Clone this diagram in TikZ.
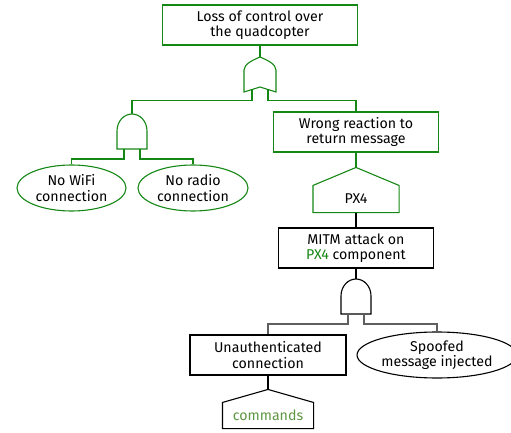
\documentclass[tikz,border=0pt]{standalone}
\usepackage{fontspec}
\setmainfont{Fira Sans}
\usepackage{xcolor}
\usepackage{tikz}
\usetikzlibrary{shapes,calc,positioning}

\definecolor{treegreen}{RGB}{20,135,20}
\definecolor{wiregray}{RGB}{95,95,95}
\definecolor{cmdgreen}{RGB}{95,150,65}

% logic gates, drawn upwards from the inputs
\tikzset{
    andgate/.pic={
        \draw (-15,0) -- (-15,-18) arc[start angle=180, end angle=360, x radius=15, y radius=17] -- (15,0) -- cycle;
        \coordinate (-out) at (0,-35);
        \coordinate (-inL) at (-8,0);
        \coordinate (-inR) at (8,0);
    },
    orgate/.pic={
        \draw (-16,0) -- (-16,-22) .. controls (-16,-28) and (-7,-32) .. (0,-35)
            .. controls (7,-32) and (16,-28) .. (16,-22) -- (16,0) -- (0,-5) -- cycle;
        \coordinate (-out) at (0,-35);
        \coordinate (-inL) at (-8,-2.5);
        \coordinate (-inR) at (8,-2.5);
    }
}

% house outline over a node, with the peak as (<node>-peak)
\newcommand{\houseroof}[3]{%
    \draw[#3] (#1.south west) -- (#1.north west) -- ($(#1.north)+(0,-#2)$) coordinate (#1-peak)
        -- (#1.north east) -- (#1.south east) -- cycle;
}

\begin{document}
\begin{tikzpicture}[
    x=1pt, y=-1pt, line width=1.1pt,
    font=\fontsize{14.2}{15.5}\selectfont,
    box/.style={draw, rectangle, minimum height=40pt, align=center, inner sep=2pt},
    event/.style={draw, ellipse, minimum height=46pt, align=center, inner sep=1pt},
    house/.style={rectangle, minimum height=26pt, align=center, inner sep=1pt}
]
    \useasboundingbox (0,0) rectangle (511,433);

    % Top event
    \node[box, draw=treegreen, minimum width=195pt] (loss) at (260,25) {Loss of control over\\the quadcopter};
    \pic[treegreen] (orA) at (260,92) {orgate};
    \draw[treegreen] (orA-out) -- (loss.south);

    % Left branch
    \pic[treegreen] (andA) at (132,149) {andgate};
    \draw[treegreen] (orA-inL) -- ++(0,11) -| (andA-out);
    \node[event, draw=treegreen, minimum width=109pt] (nowifi) at (71.5,188) {No WiFi\\connection};
    \node[event, draw=treegreen, minimum width=110pt] (noradio) at (193,188) {No radio\\connection};
    \draw[treegreen] (andA-inL) -- ++(0,10) -| (nowifi.north);
    \draw[treegreen] (andA-inR) -- ++(0,10) -| (noradio.north);

    % Right branch
    \node[box, draw=treegreen, minimum width=165pt] (wrong) at (356,132) {Wrong reaction to\\return message};
    \draw[treegreen] (orA-inR) -- ++(0,11) -| (wrong.north);
    \node[house, minimum width=85pt] (px4) at (356,199) {PX4};
    \houseroof{px4}{18}{treegreen}
    \draw[treegreen] (wrong.south) -- (px4-peak);

    % PX4 subtree
    \node[box, minimum width=155pt] (mitm) at (356,248) {MITM attack on\\\textcolor{treegreen}{PX4} component};
    \draw (px4.south) -- (mitm.north);
    \pic (andB) at (356,314) {andgate};
    \draw (mitm.south) -- (andB-out);
    \node[box, minimum width=156pt] (unauth) at (268,355) {Unauthenticated\\connection};
    \node[event, minimum width=150pt] (spoofed) at (437,355) {Spoofed\\message injected};
    \draw[wiregray] (andB-inL) -- ++(0,10) -| (unauth.north);
    \draw[wiregray] (andB-inR) -- ++(0,10) -| (spoofed.north);
    \node[house, minimum width=90pt, minimum height=25pt, text=cmdgreen] (cmds) at (268,415.5) {commands};
    \houseroof{cmds}{13}{black}
    \draw (unauth.south) -- (cmds-peak);
\end{tikzpicture}
\end{document}
